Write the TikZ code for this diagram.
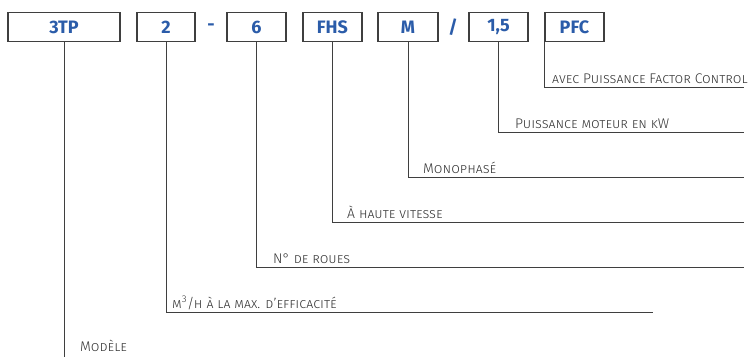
\documentclass[tikz,border=0pt]{standalone}
\usepackage{fontspec}
\setmainfont{Fira Sans}
\newfontfamily\lightfont{Fira Sans Light}
\usetikzlibrary{positioning}

\definecolor{codeblue}{HTML}{2B5CA9}
\definecolor{framegray}{HTML}{3F3F3F}
\definecolor{labelgray}{HTML}{333333}

\tikzset{
	codebox/.style={draw=framegray, line width=1.2pt, minimum height=29pt, inner sep=0pt,
		font=\fontsize{18}{18}\selectfont\bfseries, text=codeblue},
	codesep/.style={inner sep=0pt, font=\fontsize{18}{18}\selectfont\bfseries, text=codeblue},
	leader/.style={draw=framegray, line width=1pt},
	desc/.style={anchor=base west, inner sep=0pt, font=\lightfont\fontsize{14}{14}\selectfont\scshape, text=labelgray},
}

\begin{document}
\begin{tikzpicture}[x=1pt,y=-1pt]
	\useasboundingbox (0,0) rectangle (754,356);

	% Code boxes
	\node[codebox, minimum width=112pt] (model) at (64,27) {3TP};
	\node[codebox, minimum width=58pt] (flow) at (166,27) {2};
	\node[codesep] (dash) at (211,27) {-};
	\node[codebox, minimum width=59pt] (wheels) at (256.5,27) {6};
	\node[codebox, minimum width=59pt] (speed) at (332.5,27) {FHS};
	\node[codebox, minimum width=60pt] (phase) at (408,27) {M};
	\node[codesep] (slash) at (453,27) {/};
	\node[codebox, minimum width=59pt] (power) at (498.5,27) {1,5};
	\node[codebox, minimum width=59pt] (pfc) at (574.5,27) {PFC};

	% Free ends of the leaders
	\coordinate (pfcend) at (744,87);
	\coordinate (powerend) at (744,132);
	\coordinate (phaseend) at (744,177);
	\coordinate (speedend) at (744,222);
	\coordinate (wheelsend) at (744,267);
	\coordinate (flowend) at (653,312);
	\coordinate (modelend) at (65,380);

	% Leaders
	\draw[leader] (pfc.south west) |- (pfcend);
	\draw[leader] (power.south) |- (powerend);
	\draw[leader] (phase.south) |- (phaseend);
	\draw[leader] (speed.south) |- (speedend);
	\draw[leader] (wheels.south) |- (wheelsend);
	\draw[leader] (flow.south) |- (flowend);
	\draw[leader] (model.south) -- (model.south |- modelend);

	% Texts
	\node[desc] (pfctext) at (552,83) {avec Puissance Factor Control};
	\node[desc] (powertext) at (515,128) {Puissance moteur en kW};
	\node[desc] (phasetext) at (423,173) {Monophasé};
	\node[desc] (speedtext) at (347,218) {À haute vitesse};
	\node[desc] (wheelstext) at (273,263) {N° de roues};
	\node[desc] (flowtext) at (172,308) {m\textsuperscript{3}/h à la max. d’efficacité};
	\node[desc] (modeltext) at (80,351) {Modèle};

\end{tikzpicture}
\end{document}
